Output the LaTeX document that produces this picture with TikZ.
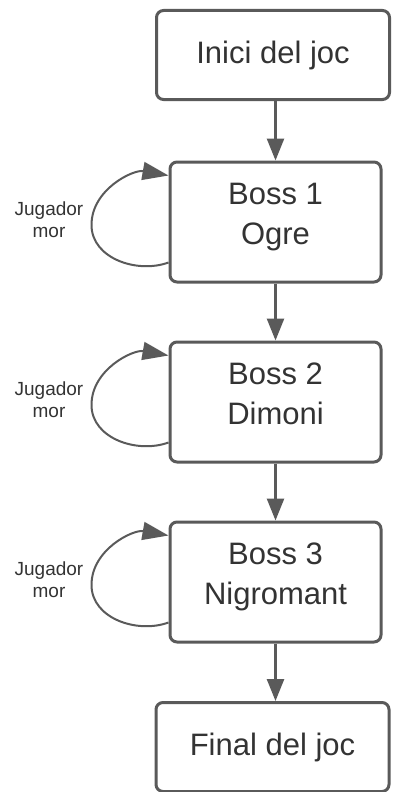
\documentclass[tikz,border=0pt]{standalone}
\usepackage{fontspec}
\setmainfont{Liberation Sans}
\usetikzlibrary{arrows.meta,calc}
\definecolor{edgegray}{HTML}{5A5A5A}
\definecolor{textgray}{HTML}{333333}
\tikzset{
  stagebox/.style={draw=edgegray, line width=3pt, rounded corners=7pt, fill=white,
    text=textgray, align=center, font=\fontsize{31}{40}\selectfont},
  endbox/.style={stagebox, minimum width=233pt, minimum height=89pt},
  bossbox/.style={stagebox, minimum width=211pt, minimum height=120pt, text depth=16pt},
  flow/.style={draw=edgegray, line width=2.6pt, -{Triangle[length=22pt,width=17pt]}},
  retry/.style={draw=edgegray, line width=2pt, -{Triangle[length=26pt,width=18pt]}},
  deathlabel/.style={text=textgray, align=center, font=\fontsize{19}{22}\selectfont}
}
\begin{document}
\begin{tikzpicture}[x=1pt, y=-1pt]
  \useasboundingbox (0,0) rectangle (393,792);

  % main sequence of stages
  \node[endbox]  (start) at (273,55)    {Inici del joc};
  \node[bossbox] (b1)    at (275.5,222) {Boss 1\\Ogre};
  \node[bossbox] (b2)    at (275.5,402) {Boss 2\\Dimoni};
  \node[bossbox] (b3)    at (275.5,582) {Boss 3\\Nigromant};
  \node[endbox]  (fin)   at (272.5,747) {Final del joc};

  \draw[flow] (start.south -| b1.north) -- (b1.north);
  \draw[flow] (b1.south) -- (b2.north);
  \draw[flow] (b2.south) -- (b3.north);
  \draw[flow] (b3.south) -- (b3.south |- fin.north);

  % retry loops on each boss
  \foreach \b in {b1,b2,b3} {
    \coordinate (\b-out) at ([yshift=21pt]\b.south west);
    \coordinate (\b-in)  at ([yshift=-15pt]\b.north west);
    \coordinate (\b-far) at ([xshift=-77pt]\b.west);
    \draw[retry] (\b-out) to[out=200,in=-90] ([yshift=-3pt]\b-far)
                          to[out=90,in=170] (\b-in);
    \node[deathlabel] (\b-lbl) at ([xshift=-226.5pt,yshift=2pt]\b.center) {Jugador\\mor};
  }
\end{tikzpicture}
\end{document}
